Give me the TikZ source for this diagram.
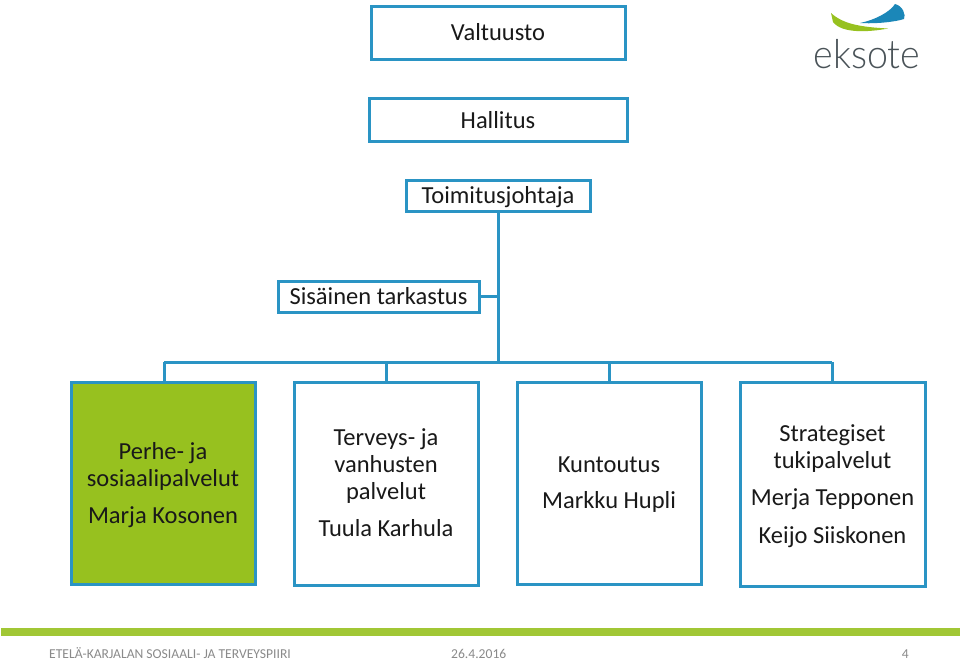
\documentclass[tikz,border=0pt]{standalone}
\usepackage{fontspec}
\setmainfont{Carlito}
\newfontfamily\logofont{Lato Light}
\definecolor{boxblue}{HTML}{2A94C4}
\definecolor{leaf}{HTML}{97C11F}
\definecolor{footgray}{HTML}{8A8A8A}
\definecolor{logoblue}{HTML}{1B87B8}
\definecolor{logotext}{HTML}{4A5358}
\tikzset{
  orgtext/.style={font=\fontsize{24.5}{27}\selectfont,text=black!90,align=center,inner sep=0pt},
  orgbox/.style={orgtext,draw=boxblue,line width=3pt,fill=white},
  link/.style={draw=boxblue,line width=3pt},
  foot/.style={text=footgray,font=\fontsize{13.6}{16}\selectfont,inner sep=0pt}
}
\begin{document}
\begin{tikzpicture}[x=1pt,y=-1pt]
\useasboundingbox (0,0) rectangle (960,660);
\fill[white] (0,0) rectangle (960,660);
% connectors
\coordinate (bl) at (164,362);
\coordinate (br) at (832,362);
\coordinate (jt) at (498,362);
\coordinate (js) at (498,296);
\node[orgbox,minimum width=254pt,minimum height=53pt] (val) at (498,33.5) {};
\node[orgbox,minimum width=258pt,minimum height=43pt] (hal) at (498,120.5) {};
\node[orgbox,minimum width=184pt,minimum height=31pt] (toi) at (498,196.5) {};
\node[orgbox,minimum width=201pt,minimum height=31pt] (sis) at (378.5,296.5) {};
\node[orgbox,fill=leaf,minimum width=184pt,minimum height=202pt] (a) at (163,483) {};
\node[orgbox,minimum width=184pt,minimum height=203pt] (b) at (386,483.5) {};
\node[orgbox,minimum width=184pt,minimum height=202pt] (c) at (609,483) {};
\node[orgbox,minimum width=185pt,minimum height=204pt] (d) at (832.5,484) {};
\draw[link] (toi.south -| jt) -- (jt);
\draw[link] (sis.east |- js) -- (js);
\draw[link] (bl) -- (br);
\draw[link] (bl) -- (bl |- a.north);
\draw[link] (b.north) -- (b.north |- bl);
\draw[link] (c.north) -- (c.north |- bl);
\draw[link] (br) -- (br |- d.north);
% box texts
\node[orgtext] (vt) at (498,32) {Valtuusto};
\node[orgtext] (ht) at (498,120) {Hallitus};
\node[orgtext] (tt) at (498,197.5) {Toimitusjohtaja};
\node[orgtext] (st) at (378.5,296) {Sisäinen tarkastus};
\node[orgtext] (at1) at (163,466.5) {Perhe- ja\\sosiaalipalvelut};
\node[orgtext] (at2) at (163,517) {Marja Kosonen};
\node[orgtext] (bt1) at (386,466.5) {Terveys- ja\\vanhusten\\palvelut};
\node[orgtext] (bt2) at (386,528) {Tuula Karhula};
\node[orgtext] (ct1) at (609,465) {Kuntoutus};
\node[orgtext] (ct2) at (609,502) {Markku Hupli};
\node[orgtext] (dt1) at (832.5,448.5) {Strategiset\\tukipalvelut};
\node[orgtext] (dt2) at (832.5,499) {Merja Tepponen};
\node[orgtext] (dt3) at (832.5,537) {Keijo Siiskonen};
% footer
\fill[leaf!90!white] (1,628) rectangle (960,636);
\node[foot,anchor=base west] (f1) at (49,658) {ETELÄ-KARJALAN SOSIAALI- JA TERVEYSPIIRI};
\node[foot,anchor=base west] (f2) at (451,658) {26.4.2016};
\node[foot,anchor=base east] (f3) at (909,658) {4};
% logo
\fill[leaf] (831,13) .. controls (843,24) and (860,27) .. (888,28.5) .. controls (870,32) and (842,34) .. (833,22) -- cycle;
\fill[logoblue] (860,23) .. controls (875,20) and (890,12) .. (895,4) .. controls (903,6) and (906,15) .. (904,19) .. controls (895,22) and (875,24) .. (860,23) -- cycle;
\node[text=logotext,font=\logofont\fontsize{40}{40}\selectfont,anchor=base,inner sep=0pt] (logo) at (867,68.5) {\scalebox{0.94}[1]{eksote}};
\end{tikzpicture}
\end{document}
